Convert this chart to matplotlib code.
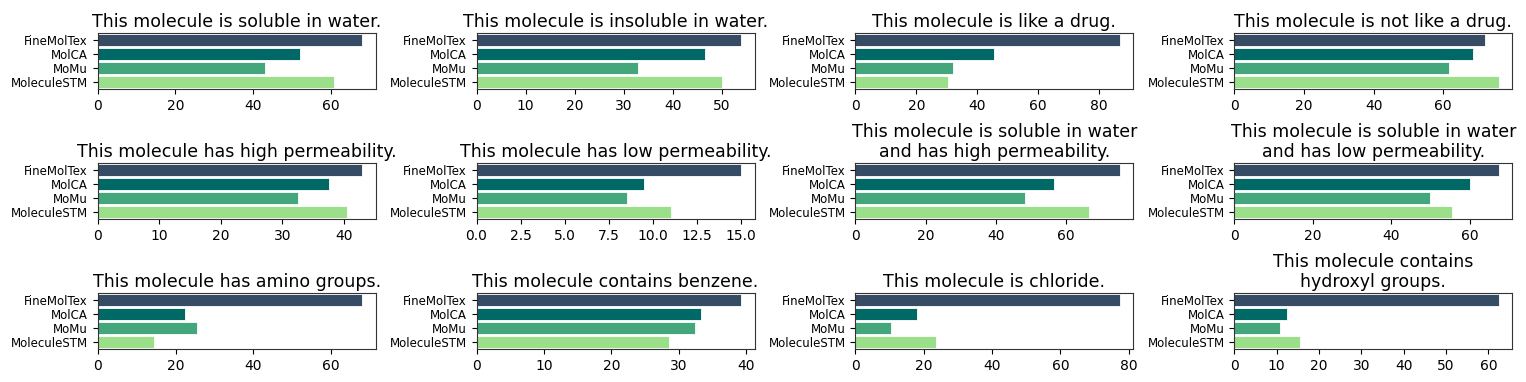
import matplotlib
matplotlib.use("Agg")
import matplotlib.pyplot as plt
from matplotlib.ticker import MultipleLocator

models = ["FineMolTex", "MolCA", "MoMu", "MoleculeSTM"]
colors = ["#364c64", "#006865", "#43a77b", "#9cdf8b"]

titles = [
    "This molecule is soluble in water.",
    "This molecule is insoluble in water.",
    "This molecule is like a drug.",
    "This molecule is not like a drug.",
    "This molecule has high permeability.",
    "This molecule has low permeability.",
    "This molecule is soluble in water\nand has high permeability.",
    "This molecule is soluble in water\nand has low permeability.",
    "This molecule has amino groups.",
    "This molecule contains benzene.",
    "This molecule is chloride.",
    "This molecule contains\nhydroxyl groups.",
]

# scores per prompt, order: FineMolTex, MolCA, MoMu, MoleculeSTM
soluble = [68.2, 52.0, 43.0, 61.0]
insoluble = [54.0, 46.5, 33.0, 50.0]
drug_like = [87.0, 45.5, 32.0, 30.5]
not_drug_like = [72.0, 68.5, 61.5, 76.0]
high_perm = [43.0, 37.5, 32.5, 40.5]
low_perm = [15.0, 9.5, 8.5, 11.0]
soluble_high_perm = [75.5, 56.5, 48.5, 66.5]
soluble_low_perm = [67.5, 60.0, 50.0, 55.5]
amino = [68.0, 22.5, 25.5, 14.5]
benzene = [39.3, 33.3, 32.5, 28.5]
chloride = [77.5, 18.0, 10.5, 23.5]
hydroxyl = [62.5, 12.5, 10.8, 15.5]

all_values = [soluble, insoluble, drug_like, not_drug_like,
              high_perm, low_perm, soluble_high_perm, soluble_low_perm,
              amino, benzene, chloride, hydroxyl]

# x tick spacing per panel
tick_steps = [20, 10, 20, 20, 10, 2.5, 20, 20, 20, 10, 20, 10]

fig, axes = plt.subplots(3, 4, figsize=(15.26, 3.82), dpi=100)
plt.subplots_adjust(left=0.064, right=0.991, top=0.914, bottom=0.086,
                    wspace=0.363, hspace=1.31)

for ax, title, vals, step in zip(axes.flat, titles, all_values, tick_steps):
    ypos = list(range(len(models)))
    ax.barh(ypos, vals, height=0.8, color=colors,
            edgecolor="white", linewidth=0.6)
    ax.set_yticks(ypos)
    ax.set_yticklabels(models, fontsize=8.5)
    ax.set_ylim(3.5, -0.5)
    ax.xaxis.set_major_locator(MultipleLocator(step))
    ax.tick_params(axis="x", labelsize=10)
    ax.set_title(title, fontsize=12.5, pad=4)
    for s in ax.spines.values():
        s.set_color("#333333")

fig.savefig("out.png", dpi=100)
